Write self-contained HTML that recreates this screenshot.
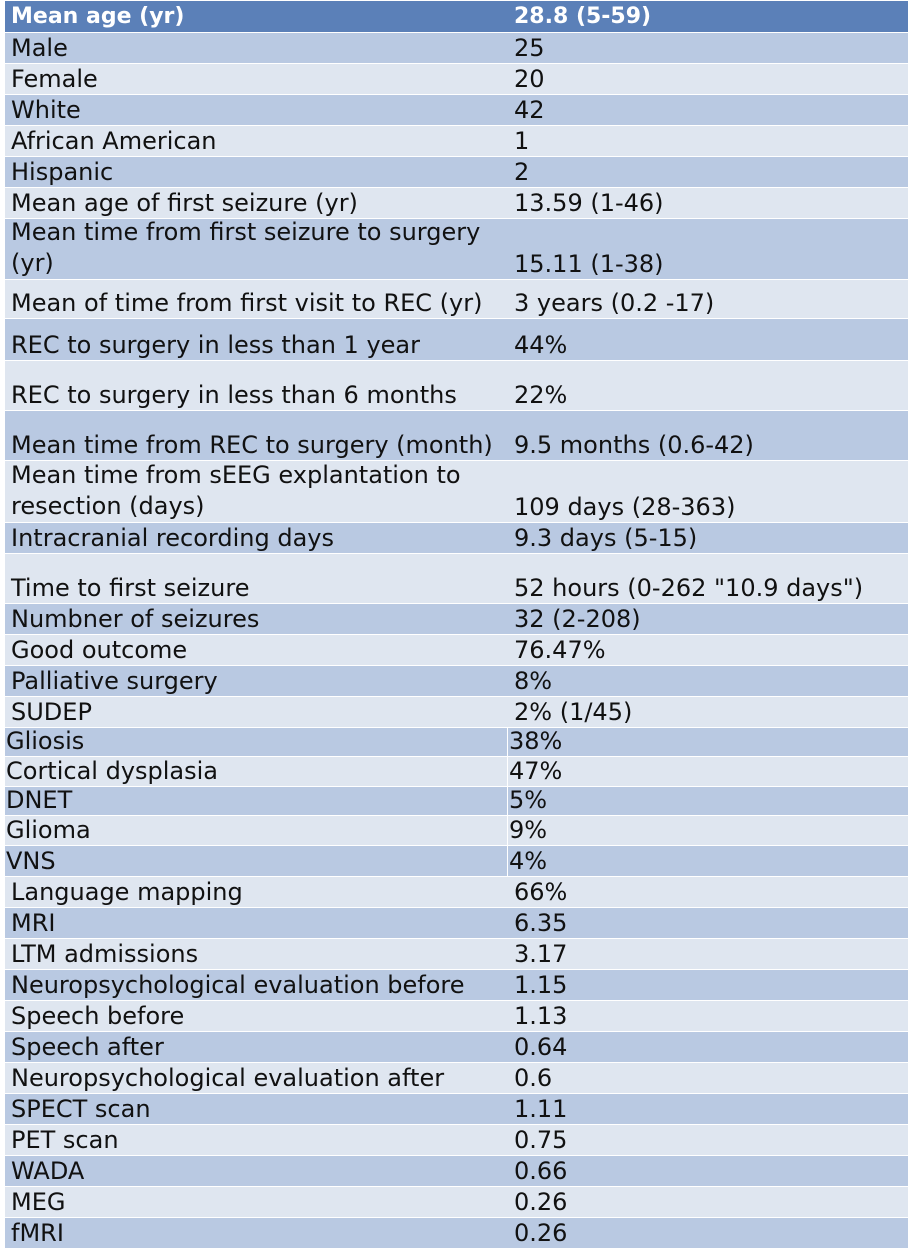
<!DOCTYPE html>
<html><head><meta charset="utf-8"><style>
body{margin:0;width:912px;height:1252px;background:#fff;position:relative;overflow:hidden;font-family:"DejaVu Sans","Liberation Sans",sans-serif;font-size:24px;color:#111;}
.r{position:absolute;left:5px;width:903px;}
.c{position:absolute;top:0;bottom:0;display:flex;align-items:flex-end;white-space:nowrap;line-height:30px;}
.a{left:0;width:501px;padding-left:6px;}
.b{left:503px;right:0;padding-left:6px;}
.d .c{background:#b9c9e2;}
.l .c{background:#dfe6f0;}
.h .c{background:#5b80b8;color:#fff;font-weight:bold;font-size:22px;}
.t .a{padding-left:1px}.t .b{padding-left:1px}
.two{line-height:31px;white-space:normal;}
</style></head><body>
<div class="r h" style="top:1px;height:31px"><div class="c a">Mean age (yr)</div><div class="c b">28.8 (5-59)</div></div>
<div class="r d" style="top:33px;height:30px"><div class="c a">Male</div><div class="c b">25</div></div>
<div class="r l" style="top:64px;height:30px"><div class="c a">Female</div><div class="c b">20</div></div>
<div class="r d" style="top:95px;height:30px"><div class="c a">White</div><div class="c b">42</div></div>
<div class="r l" style="top:126px;height:30px"><div class="c a">African American</div><div class="c b">1</div></div>
<div class="r d" style="top:157px;height:30px"><div class="c a">Hispanic</div><div class="c b">2</div></div>
<div class="r l" style="top:188px;height:30px"><div class="c a">Mean age of first seizure (yr)</div><div class="c b">13.59 (1-46)</div></div>
<div class="r d" style="top:219px;height:60px"><div class="c a"><div class="two">Mean time from first seizure to surgery<br>(yr)</div></div><div class="c b">15.11 (1-38)</div></div>
<div class="r l" style="top:280px;height:38px"><div class="c a">Mean of time from first visit to REC (yr)</div><div class="c b">3 years (0.2 -17)</div></div>
<div class="r d" style="top:319px;height:41px"><div class="c a">REC to surgery in less than 1 year</div><div class="c b">44%</div></div>
<div class="r l" style="top:361px;height:49px"><div class="c a">REC to surgery in less than 6 months</div><div class="c b">22%</div></div>
<div class="r d" style="top:411px;height:49px"><div class="c a">Mean time from REC to surgery (month)</div><div class="c b">9.5 months (0.6-42)</div></div>
<div class="r l" style="top:461px;height:61px"><div class="c a"><div class="two">Mean time from sEEG explantation to<br>resection (days)</div></div><div class="c b">109 days (28-363)</div></div>
<div class="r d" style="top:523px;height:30px"><div class="c a">Intracranial recording days</div><div class="c b">9.3 days (5-15)</div></div>
<div class="r l" style="top:554px;height:49px"><div class="c a">Time to first seizure</div><div class="c b">52 hours (0-262 "10.9 days")</div></div>
<div class="r d" style="top:604px;height:30px"><div class="c a">Numbner of seizures</div><div class="c b">32 (2-208)</div></div>
<div class="r l" style="top:635px;height:30px"><div class="c a">Good outcome</div><div class="c b">76.47%</div></div>
<div class="r d" style="top:666px;height:30px"><div class="c a">Palliative surgery</div><div class="c b">8%</div></div>
<div class="r l" style="top:697px;height:30px"><div class="c a">SUDEP</div><div class="c b">2% (1/45)</div></div>
<div class="r d t" style="top:728px;height:28px"><div class="c a">Gliosis</div><div class="c b">38%</div></div>
<div class="r l t" style="top:757px;height:29px"><div class="c a">Cortical dysplasia</div><div class="c b">47%</div></div>
<div class="r d t" style="top:787px;height:28px"><div class="c a">DNET</div><div class="c b">5%</div></div>
<div class="r l t" style="top:816px;height:29px"><div class="c a">Glioma</div><div class="c b">9%</div></div>
<div class="r d t" style="top:846px;height:30px"><div class="c a">VNS</div><div class="c b">4%</div></div>
<div class="r l" style="top:877px;height:30px"><div class="c a">Language mapping</div><div class="c b">66%</div></div>
<div class="r d" style="top:908px;height:30px"><div class="c a">MRI</div><div class="c b">6.35</div></div>
<div class="r l" style="top:939px;height:30px"><div class="c a">LTM admissions</div><div class="c b">3.17</div></div>
<div class="r d" style="top:970px;height:30px"><div class="c a">Neuropsychological evaluation before</div><div class="c b">1.15</div></div>
<div class="r l" style="top:1001px;height:30px"><div class="c a">Speech before</div><div class="c b">1.13</div></div>
<div class="r d" style="top:1032px;height:30px"><div class="c a">Speech after</div><div class="c b">0.64</div></div>
<div class="r l" style="top:1063px;height:30px"><div class="c a">Neuropsychological evaluation after</div><div class="c b">0.6</div></div>
<div class="r d" style="top:1094px;height:30px"><div class="c a">SPECT scan</div><div class="c b">1.11</div></div>
<div class="r l" style="top:1125px;height:30px"><div class="c a">PET scan</div><div class="c b">0.75</div></div>
<div class="r d" style="top:1156px;height:30px"><div class="c a">WADA</div><div class="c b">0.66</div></div>
<div class="r l" style="top:1187px;height:30px"><div class="c a">MEG</div><div class="c b">0.26</div></div>
<div class="r d" style="top:1218px;height:30px"><div class="c a">fMRI</div><div class="c b">0.26</div></div>
</body></html>
